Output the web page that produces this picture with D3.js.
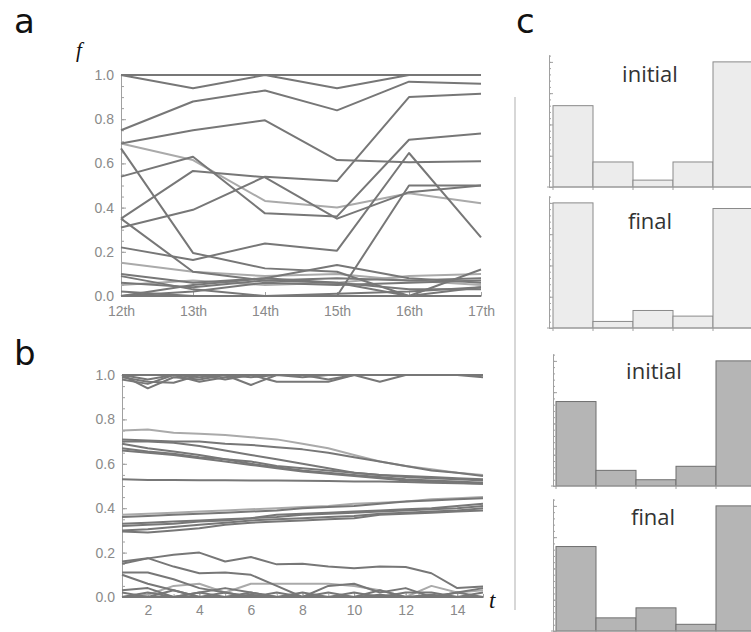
<!DOCTYPE html>
<html>
<head>
<meta charset="utf-8">
<script src="https://cdn.jsdelivr.net/npm/d3@7"></script>
<style>
  body { margin: 0; background: #fff; }
  .axis path, .axis line { stroke: #a0a0a0; }
  .axis text { fill: #8a8a8a; font-family: "Liberation Sans", Arial, sans-serif; font-size: 14px; }
</style>
</head>
<body>
<div id="chart"></div>
<script>
// ---- data ----
// panel a: fraction per line at each round
var aCats = ["12th", "13th", "14th", "15th", "16th", "17th"];
var aYTicks = [0, 0.2, 0.4, 0.6, 0.8, 1.0];
var aLines = [
  [1.0, 1.0, 1.0, 1.0, 1.0, 1.0],
  [1.0, 0.94, 1.0, 0.94, 1.0, 1.0],
  [0.75, 0.88, 0.93, 0.84, 0.97, 0.96],
  [0.69, 0.75, 0.795, 0.615, 0.605, 0.61],
  [0.31, 0.39, 0.54, 0.52, 0.90, 0.915],
  [0.69, 0.615, 0.43, 0.40, 0.465, 0.42],
  [0.54, 0.63, 0.374, 0.36, 0.707, 0.735],
  [0.35, 0.566, 0.537, 0.35, 0.47, 0.50],
  [0.668, 0.195, 0.125, 0.11, 0.0, 0.0],
  [0.22, 0.163, 0.238, 0.205, 0.647, 0.265],
  [0.35, 0.11, 0.07, 0.06, 0.03, 0.03],
  [0.15, 0.11, 0.09, 0.10, 0.07, 0.05],
  [0.10, 0.06, 0.08, 0.14, 0.08, 0.06],
  [0.09, 0.03, 0.0, 0.0, 0.0, 0.12],
  [0.06, 0.04, 0.07, 0.08, 0.07, 0.08],
  [0.05, 0.07, 0.05, 0.06, 0.09, 0.10],
  [0.0, 0.02, 0.06, 0.05, 0.06, 0.07],
  [0.0, 0.0, 0.0, 0.0, 0.0, 0.0],
  [0.02, 0.0, 0.0, 0.01, 0.02, 0.04],
  [0.0, 0.05, 0.08, 0.06, 0.0, 0.04],
  [0.0, 0.0, 0.0, 0.0, 0.5, 0.5]
];
var aLight = [5, 11, 15];

// panel b: fraction per line at each time step
var bSteps = [1, 2, 3, 4, 5, 6, 7, 8, 9, 10, 11, 12, 13, 14, 15];
var bXTicks = [2, 4, 6, 8, 10, 12, 14];
var bYTicks = [0, 0.2, 0.4, 0.6, 0.8, 1.0];
var bLines = [
  [1, 1, 1, 1, 1, 1, 1, 1, 1, 1, 1, 1, 1, 1, 1],
  [1, 0.94, 0.99, 0.98, 1, 0.99, 1, 1, 1, 1, 1, 1, 1, 1, 1],
  [0.99, 0.97, 0.965, 1, 0.98, 1, 0.97, 0.97, 0.97, 1, 0.97, 1, 1, 1, 1],
  [1, 0.98, 1, 0.99, 1, 0.955, 1, 0.99, 1, 1, 1, 1, 1, 1, 0.99],
  [0.98, 0.96, 1, 0.97, 0.99, 1, 1, 1, 0.98, 1, 1, 1, 1, 1, 1],
  [0.75, 0.755, 0.74, 0.735, 0.73, 0.72, 0.71, 0.69, 0.67, 0.64, 0.61, 0.59, 0.575, 0.56, 0.55],
  [0.71, 0.705, 0.70, 0.70, 0.69, 0.685, 0.675, 0.665, 0.65, 0.63, 0.61, 0.59, 0.57, 0.56, 0.545],
  [0.70, 0.70, 0.695, 0.68, 0.66, 0.64, 0.62, 0.60, 0.58, 0.56, 0.55, 0.54, 0.535, 0.53, 0.525],
  [0.69, 0.67, 0.655, 0.64, 0.62, 0.61, 0.59, 0.58, 0.57, 0.56, 0.55, 0.545, 0.54, 0.535, 0.53],
  [0.67, 0.655, 0.645, 0.63, 0.62, 0.60, 0.585, 0.57, 0.56, 0.55, 0.54, 0.53, 0.525, 0.52, 0.515],
  [0.66, 0.65, 0.64, 0.625, 0.61, 0.595, 0.58, 0.565, 0.555, 0.545, 0.535, 0.525, 0.52, 0.515, 0.51],
  [0.53, 0.527, 0.527, 0.526, 0.526, 0.525, 0.525, 0.524, 0.523, 0.52, 0.52, 0.518, 0.515, 0.512, 0.51],
  [0.37, 0.375, 0.38, 0.385, 0.39, 0.395, 0.40, 0.405, 0.41, 0.42, 0.425, 0.43, 0.44, 0.445, 0.45],
  [0.36, 0.365, 0.37, 0.375, 0.38, 0.385, 0.39, 0.40, 0.405, 0.41, 0.42, 0.43, 0.435, 0.44, 0.445],
  [0.33, 0.335, 0.34, 0.345, 0.35, 0.355, 0.37, 0.375, 0.38, 0.385, 0.39, 0.395, 0.40, 0.41, 0.42],
  [0.32, 0.325, 0.33, 0.34, 0.345, 0.355, 0.36, 0.37, 0.375, 0.38, 0.385, 0.39, 0.395, 0.40, 0.41],
  [0.30, 0.305, 0.315, 0.325, 0.335, 0.345, 0.35, 0.355, 0.36, 0.365, 0.375, 0.38, 0.385, 0.39, 0.40],
  [0.295, 0.29, 0.30, 0.31, 0.325, 0.335, 0.34, 0.345, 0.35, 0.355, 0.37, 0.375, 0.38, 0.385, 0.39],
  [0.15, 0.174, 0.19, 0.20, 0.16, 0.18, 0.147, 0.15, 0.137, 0.13, 0.137, 0.135, 0.107, 0.04, 0.047],
  [0.16, 0.175, 0.137, 0.107, 0.11, 0.10, 0.05, 0.0, 0.0, 0.0, 0.0, 0.0, 0.0, 0.0, 0.0],
  [0.11, 0.11, 0.08, 0.04, 0.02, 0.0, 0.0, 0.0, 0.02, 0.0, 0.0, 0.0, 0.0, 0.0, 0.0],
  [0.10, 0.06, 0.03, 0.0, 0.0, 0.02, 0.0, 0.0, 0.0, 0.0, 0.03, 0.0, 0.0, 0.02, 0.0],
  [0.0, 0.01, 0.05, 0.06, 0.02, 0.06, 0.06, 0.06, 0.06, 0.05, 0.03, 0.0, 0.05, 0.02, 0.03],
  [0.03, 0.04, 0.0, 0.02, 0.04, 0.02, 0.0, 0.0, 0.05, 0.06, 0.02, 0.04, 0.0, 0.02, 0.04],
  [0.02, 0.0, 0.03, 0.0, 0.02, 0.0, 0.02, 0.0, 0.0, 0.02, 0.0, 0.02, 0.02, 0.0, 0.02],
  [0.0, 0.02, 0.0, 0.02, 0.0, 0.01, 0.0, 0.02, 0.0, 0.0, 0.01, 0.0, 0.01, 0.0, 0.0],
  [0, 0, 0, 0, 0, 0, 0, 0, 0, 0, 0, 0, 0, 0, 0]
];
var bLight = [5, 12, 22];

// panel c: histogram counts in 5 bins of f
var histEdges = [0, 0.2, 0.4, 0.6, 0.8, 1.0];
var histAInitial = [13, 4, 1.1, 4, 20];
var histAFinal = [20, 1.05, 2.8, 1.9, 19.1];
var histBInitial = [13.5, 2.5, 1.0, 3.15, 20];
var histBFinal = [13.5, 2.1, 3.7, 1.07, 20];
var histLabels = ["initial", "final", "initial", "final"];

// ---- drawing ----
var W = 751, H = 632;
var svg = d3.select("#chart").append("svg")
    .attr("width", W)
    .attr("height", H)
    .style("display", "block");

var darkLine = "#777", lightLine = "#aaa";

function panelLabel(txt, x, y) {
  svg.append("text")
    .attr("x", x).attr("y", y)
    .attr("font-family", "'DejaVu Sans', sans-serif")
    .attr("font-size", 34)
    .attr("fill", "#111")
    .text(txt);
}
panelLabel("a", 14, 33);
panelLabel("b", 14, 365);
panelLabel("c", 516, 33);

// line panel helper
function linePanel(x, y, lines, light, xVals, yTicks, xAxis, xAxisLabelPad) {
  var g = svg.append("g");
  var y0 = y.range()[0], x0 = x.range()[0];

  // minor y ticks
  g.append("g")
    .attr("class", "axis")
    .attr("transform", "translate(" + x0 + ",0)")
    .call(d3.axisLeft(y).tickValues(d3.range(0, 1.001, 0.05)).tickFormat("").tickSizeInner(-3).tickSizeOuter(0));

  g.append("g")
    .attr("class", "axis")
    .attr("transform", "translate(" + x0 + ",0)")
    .call(d3.axisLeft(y).tickValues(yTicks).tickFormat(d3.format(".1f")).tickSizeInner(-5).tickSizeOuter(0).tickPadding(7));

  g.append("g")
    .attr("class", "axis")
    .attr("transform", "translate(0," + y0 + ")")
    .call(xAxis.tickSizeOuter(0).tickPadding(xAxisLabelPad));

  var line = d3.line()
    .x(function(d, i) { return x(xVals[i]); })
    .y(function(d) { return y(d); });

  // light lines underneath
  var order = d3.range(lines.length).sort(function(p, q) {
    return (light.indexOf(q) >= 0) - (light.indexOf(p) >= 0);
  });
  g.append("g")
    .selectAll("path")
    .data(order)
    .enter().append("path")
      .attr("d", function(i) { return line(lines[i]); })
      .attr("fill", "none")
      .attr("stroke", function(i) { return light.indexOf(i) >= 0 ? lightLine : darkLine; })
      .attr("stroke-width", 2)
      .attr("stroke-linejoin", "round");
  return g;
}

// panel a
var ax = d3.scalePoint().domain(aCats).range([121, 481]);
var ay = d3.scaleLinear().domain([0, 1]).range([296, 75]);
linePanel(ax, ay, aLines, aLight, aCats, aYTicks,
  d3.axisBottom(ax).tickSizeInner(-4), 10);

svg.append("text")
  .attr("x", 76).attr("y", 57)
  .attr("font-family", "'Liberation Serif', serif")
  .attr("font-style", "italic")
  .attr("font-size", 21)
  .attr("fill", "#111")
  .text("f");

// panel b
var bx = d3.scaleLinear().domain([1, 15]).range([122, 483]);
var by = d3.scaleLinear().domain([0, 1]).range([597, 375]);
var gb = linePanel(bx, by, bLines, bLight, bSteps, bYTicks,
  d3.axisBottom(bx).tickValues(bXTicks).tickFormat(d3.format("d")).tickSizeInner(-5), 8);
// minor x ticks
gb.insert("g", ":first-child")
  .attr("class", "axis")
  .attr("transform", "translate(0,597)")
  .call(d3.axisBottom(bx).tickValues(d3.range(1, 15.01, 0.5)).tickFormat("").tickSizeInner(-3).tickSizeOuter(0));

svg.append("text")
  .attr("x", 489).attr("y", 608)
  .attr("font-family", "'Liberation Serif', serif")
  .attr("font-style", "italic")
  .attr("font-size", 23)
  .attr("fill", "#111")
  .text("t");

// panel c
svg.append("line")
  .attr("x1", 515).attr("x2", 515)
  .attr("y1", 97).attr("y2", 610)
  .attr("stroke", "#bdbdbd")
  .attr("stroke-width", 1.2);

var hists = [
  { data: histAInitial, axisX: 549, barX: 553, base: 187, fill: "#ececec", stroke: "#8a8a8a", labelX: 650, labelY: 82 },
  { data: histAFinal,   axisX: 549, barX: 553, base: 328, fill: "#ececec", stroke: "#8a8a8a", labelX: 650, labelY: 229 },
  { data: histBInitial, axisX: 553, barX: 556, base: 486, fill: "#b5b5b5", stroke: "#6f6f6f", labelX: 654, labelY: 379 },
  { data: histBFinal,   axisX: 553, barX: 556, base: 631, fill: "#b5b5b5", stroke: "#6f6f6f", labelX: 653, labelY: 525 }
];

hists.forEach(function(h, k) {
  var g = svg.append("g");
  var hx = d3.scaleLinear().domain([0, 1]).range([h.barX, h.barX + 200]);
  var hy = d3.scaleLinear().domain([0, 21.1]).range([h.base, h.base - 132]);

  g.selectAll("rect")
    .data(h.data)
    .enter().append("rect")
      .attr("x", function(d, i) { return hx(histEdges[i]); })
      .attr("width", function(d, i) { return hx(histEdges[i + 1]) - hx(histEdges[i]); })
      .attr("y", function(d) { return hy(d); })
      .attr("height", function(d) { return h.base - hy(d); })
      .attr("fill", h.fill)
      .attr("stroke", h.stroke)
      .attr("stroke-width", 1);

  // left axis with minor ticks
  g.append("g")
    .attr("class", "axis")
    .attr("transform", "translate(" + h.axisX + ",0)")
    .call(d3.axisLeft(hy).tickValues(d3.range(0, 21.1, 1)).tickFormat("").tickSizeInner(-2).tickSizeOuter(0));
  g.append("g")
    .attr("class", "axis")
    .attr("transform", "translate(" + h.axisX + ",0)")
    .call(d3.axisLeft(hy).tickValues([0, 5, 10, 15, 20]).tickFormat("").tickSizeInner(-4).tickSizeOuter(0));

  // baseline with ticks at bin edges
  g.append("line")
    .attr("x1", h.axisX - 2).attr("x2", W)
    .attr("y1", h.base).attr("y2", h.base)
    .attr("stroke", "#a0a0a0");
  g.selectAll(".edge")
    .data(histEdges)
    .enter().append("line")
      .attr("x1", function(d) { return hx(d); })
      .attr("x2", function(d) { return hx(d); })
      .attr("y1", h.base).attr("y2", h.base + 3)
      .attr("stroke", "#a0a0a0");

  g.append("text")
    .attr("x", h.labelX).attr("y", h.labelY)
    .attr("text-anchor", "middle")
    .attr("font-family", "'Open Sans', sans-serif")
    .attr("font-size", 22)
    .attr("fill", "#333")
    .text(histLabels[k]);
});
</script>
</body>
</html>
